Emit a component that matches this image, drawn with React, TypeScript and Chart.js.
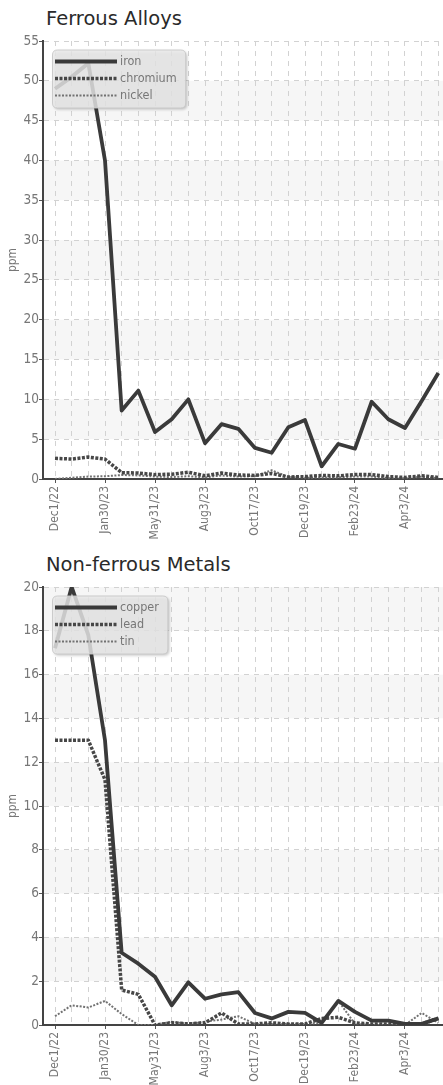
import React, { useEffect, useRef } from 'react';
import { Chart, registerables } from 'chart.js';

Chart.register(...registerables);

// ---- data ----
const tickLabels = ['Dec1/22', 'Jan30/23', 'May31/23', 'Aug3/23', 'Oct17/23', 'Dec19/23', 'Feb23/24', 'Apr3/24'];

const iron = [49, 50.5, 52.2, 40, 8.6, 11.1, 5.9, 7.5, 10, 4.5, 6.9, 6.3, 3.9, 3.3, 6.5, 7.4, 1.6, 4.4, 3.8, 9.7, 7.5, 6.4, 9.8, 13.3];
const chromium = [2.6, 2.5, 2.75, 2.5, 0.8, 0.75, 0.55, 0.6, 0.85, 0.4, 0.75, 0.5, 0.45, 0.7, 0.25, 0.3, 0.45, 0.4, 0.55, 0.55, 0.3, 0.2, 0.4, 0.2];
const nickel = [0, 0.15, 0.3, 0.35, 0.5, 0.45, 0.3, 0.25, 0.35, 0.2, 0.45, 0.3, 0.35, 1.1, 0.25, 0.15, 0.2, 0.2, 0.3, 0.3, 0.1, 0.1, 0.3, 0.1];

const copper = [17.2, 20, 17.8, 13, 3.3, 2.8, 2.2, 0.9, 1.95, 1.2, 1.4, 1.5, 0.55, 0.3, 0.6, 0.55, 0.1, 1.1, 0.6, 0.2, 0.2, 0.05, 0.05, 0.3];
const lead = [13, 13, 13, 11.2, 1.6, 1.4, 0, 0.1, 0.05, 0.1, 0.55, 0.05, 0.05, 0.1, 0.05, 0.05, 0.3, 0.35, 0.1, 0.05, 0.05, 0, 0.05, 0.3];
const tin = [0.4, 0.9, 0.8, 1.1, 0.5, 0, 0, 0.15, 0.05, 0.15, 0.25, 0.4, 0.05, 0.05, 0.05, 0.05, 0.1, 1.1, 0.05, 0, 0, 0, 0.55, 0.1];

const ferrousYTicks = { max: 55, step: 5 };
const nonFerrousYTicks = { max: 20, step: 2 };

// ---- styling ----
const NARROW = "'DejaVu Sans Condensed', 'Liberation Sans Narrow', sans-serif";
const X_MIN = -0.72;
const X_MAX = 23.28;

const solidStyle = { color: '#3a3a3a', width: 3.8, dash: [] as number[] };
const dashStyle = { color: '#474747', width: 3.5, dash: [3, 1.5] };
const thinStyle = { color: '#727272', width: 2, dash: [2, 1.5] };

const bandsPlugin = {
  id: 'bands',
  beforeDraw(chart: any) {
    const { ctx, chartArea, scales } = chart;
    const y = scales.y;
    const ticks = y.ticks;
    ctx.save();
    ctx.fillStyle = 'rgba(0,0,0,0.035)';
    for (let k = 1; k < ticks.length - 1; k += 2) {
      const y1 = y.getPixelForValue(ticks[k].value);
      const y2 = y.getPixelForValue(ticks[k + 1].value);
      ctx.fillRect(chartArea.left, y2, chartArea.right - chartArea.left, y1 - y2);
    }
    ctx.restore();
  },
};

const boxLegendPlugin = {
  id: 'boxLegend',
  afterDraw(chart: any) {
    const { ctx, chartArea } = chart;
    const dsets = chart.data.datasets;
    ctx.save();
    ctx.font = `12.5px ${NARROW}`;
    let maxW = 0;
    dsets.forEach((d: any) => { maxW = Math.max(maxW, ctx.measureText(d.label).width); });
    const left = chartArea.left + 9.5;
    const top = chartArea.top + 9;
    const textX = left + 67.5;
    const w = textX + maxW + 9 - left;
    const h = 58;
    const r = 5;
    ctx.beginPath();
    ctx.moveTo(left + r, top);
    ctx.lineTo(left + w - r, top);
    ctx.quadraticCurveTo(left + w, top, left + w, top + r);
    ctx.lineTo(left + w, top + h - r);
    ctx.quadraticCurveTo(left + w, top + h, left + w - r, top + h);
    ctx.lineTo(left + r, top + h);
    ctx.quadraticCurveTo(left, top + h, left, top + h - r);
    ctx.lineTo(left, top + r);
    ctx.quadraticCurveTo(left, top, left + r, top);
    ctx.closePath();
    ctx.shadowColor = 'rgba(0,0,0,0.28)';
    ctx.shadowBlur = 3;
    ctx.shadowOffsetX = 1.5;
    ctx.shadowOffsetY = 1.5;
    ctx.fillStyle = 'rgba(234,234,234,0.82)';
    ctx.fill();
    ctx.shadowColor = 'rgba(0,0,0,0)';
    ctx.strokeStyle = 'rgba(200,200,200,0.9)';
    ctx.lineWidth = 1;
    ctx.stroke();
    dsets.forEach((d: any, i: number) => {
      const cy = top + 11.5 + 17 * i;
      ctx.beginPath();
      ctx.setLineDash(d.borderDash || []);
      ctx.lineWidth = d.borderWidth;
      ctx.strokeStyle = d.borderColor;
      ctx.moveTo(left + 2.5, cy);
      ctx.lineTo(left + 64.5, cy);
      ctx.stroke();
      ctx.setLineDash([]);
      ctx.fillStyle = '#777';
      ctx.textBaseline = 'middle';
      ctx.textAlign = 'left';
      ctx.fillText(d.label, textX, cy + 0.5);
    });
    ctx.restore();
  },
};

function MetalChart({ series, yMax, yStep, style }: any) {
  const ref = useRef<HTMLCanvasElement>(null);
  useEffect(() => {
    const canvas = ref.current as HTMLCanvasElement;
    const chart = new Chart(canvas, {
      type: 'line',
      data: {
        datasets: series.map((s: any) => ({
          label: s.label,
          data: s.values.map((v: number, i: number) => ({ x: i, y: v })),
          borderColor: s.style.color,
          borderWidth: s.style.width,
          borderDash: s.style.dash,
          pointRadius: 0,
          pointHoverRadius: 0,
          tension: 0,
          fill: false,
          borderJoinStyle: 'round',
        })),
      },
      options: {
        responsive: false,
        animation: false,
        events: [],
        layout: { padding: { top: 11, right: 0, bottom: 0, left: 0 } },
        plugins: { legend: { display: false }, tooltip: { enabled: false }, title: { display: false } },
        scales: {
          x: {
            type: 'linear',
            min: X_MIN,
            max: X_MAX,
            afterBuildTicks: (s: any) => { s.ticks = series[0].values.map((_: number, i: number) => ({ value: i })); },
            afterFit: (s: any) => { s.height = 68; s.paddingLeft = 0; s.paddingRight = 0; },
            ticks: {
              autoSkip: false,
              maxRotation: 90,
              minRotation: 90,
              padding: 3,
              color: '#777',
              font: { family: NARROW, size: 12 },
              callback: (v: any) => (v % 3 === 0 ? tickLabels[v / 3] : ''),
            },
            grid: {
              color: '#d2d2d2',
              lineWidth: 1,
              tickLength: 4,
              tickColor: (c: any) => (c.tick && c.tick.value % 3 === 0 ? '#555' : 'rgba(0,0,0,0)'),
            },
            border: { display: true, color: '#444', width: 2, dash: [5, 5] },
          },
          y: {
            min: 0,
            max: yMax,
            afterFit: (s: any) => { s.width = 35; },
            ticks: { stepSize: yStep, padding: 0, color: '#777', font: { family: NARROW, size: 13.5 } },
            grid: { color: '#d2d2d2', lineWidth: 1, tickLength: 4, tickColor: '#555' },
            border: { display: true, color: '#444', width: 2, dash: [5, 5] },
            title: { display: true, text: 'ppm', color: '#777', font: { family: NARROW, size: 12 }, padding: { top: -2, bottom: 0 } },
          },
        },
      } as any,
      plugins: [bandsPlugin, boxLegendPlugin],
    });
    return () => chart.destroy();
  }, []);
  return <canvas ref={ref} width={435} height={517} style={style} />;
}

const titleStyle: any = {
  position: 'absolute',
  left: 46,
  fontFamily: "'DejaVu Sans', Verdana, sans-serif",
  fontSize: 19.5,
  lineHeight: '22px',
  color: '#2a2a2a',
  whiteSpace: 'nowrap',
};

export default function App() {
  const ferrous = [
    { label: 'iron', values: iron, style: solidStyle },
    { label: 'chromium', values: chromium, style: dashStyle },
    { label: 'nickel', values: nickel, style: thinStyle },
  ];
  const nonFerrous = [
    { label: 'copper', values: copper, style: solidStyle },
    { label: 'lead', values: lead, style: dashStyle },
    { label: 'tin', values: tin, style: thinStyle },
  ];
  return (
    <div style={{ position: 'absolute', left: 0, top: 0, width: 443, height: 1085, overflow: 'hidden', background: '#fff' }}>
      <div style={{ ...titleStyle, top: 8 }}>Ferrous Alloys</div>
      <MetalChart series={ferrous} yMax={ferrousYTicks.max} yStep={ferrousYTicks.step} style={{ position: 'absolute', left: 8, top: 30 }} />
      <div style={{ ...titleStyle, top: 554 }}>Non-ferrous Metals</div>
      <MetalChart series={nonFerrous} yMax={nonFerrousYTicks.max} yStep={nonFerrousYTicks.step} style={{ position: 'absolute', left: 8, top: 576 }} />
    </div>
  );
}
